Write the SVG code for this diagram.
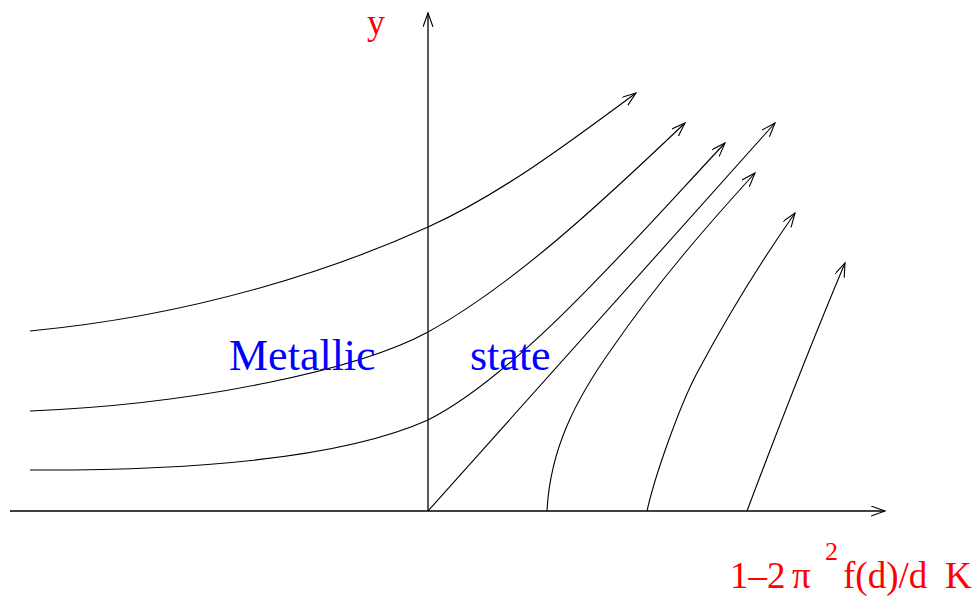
<svg xmlns="http://www.w3.org/2000/svg" width="980" height="597" viewBox="0 0 980 597">
<style>
.ln{fill:none;stroke:#000;stroke-width:1.1}
.ax{fill:none;stroke:#000;stroke-width:1.3}
.red{fill:#ff0000;font-family:"Liberation Serif","Times New Roman",serif}
.blue{fill:#0000ff;font-family:"Liberation Serif","Times New Roman",serif;font-size:44px}
</style>
<defs>
<marker id="arr" markerUnits="userSpaceOnUse" markerWidth="16" markerHeight="12" refX="14" refY="5" orient="auto">
<path d="M0,0 L14,5 L0,10" fill="none" stroke="#000" stroke-width="1.1"/>
</marker>
</defs>
<g id="axes">
<line class="ax" x1="10" y1="511" x2="885" y2="511" marker-end="url(#arr)"/>
<line class="ax" x1="428" y1="511" x2="428" y2="13" marker-end="url(#arr)"/>
</g>
<g id="connectors">
<path class="ln" d="M30,331 C200,315 340,267 428,227 C498,195.5 566,145 636,93" marker-end="url(#arr)"/>
<path class="ln" d="M30,411 C200,404 360,369 428,332 C513,285 600,204 685,123" marker-end="url(#arr)"/>
<path class="ln" d="M30,470 C260,471 370,446 428,420 C518,375 635,239 725,143" marker-end="url(#arr)"/>
<path class="ln" d="M428,511 L775,123" marker-end="url(#arr)"/>
<path class="ln" d="M547,511 C550,450 575,400 613,347 C658,282 705,228 755,173" marker-end="url(#arr)"/>
<path class="ln" d="M647,511 C655,475 680,405 697,373 C727,317 760,263 795,213" marker-end="url(#arr)"/>
<path class="ln" d="M747,511 C770,450 800,370 845,263" marker-end="url(#arr)"/>
</g>
<g id="labels">
<text class="red" x="367" y="34" font-size="36">y</text>
<text class="blue" x="229" y="370" font-size="45">Metallic</text>
<text class="blue" x="470" y="370">state</text>
<text class="red" font-size="37" y="588"><tspan x="730">1–2</tspan><tspan x="792">π</tspan><tspan x="825" y="560" font-size="26">2</tspan><tspan x="843" y="588">f(d)/d</tspan><tspan x="945">K</tspan></text>
</g>
</svg>
